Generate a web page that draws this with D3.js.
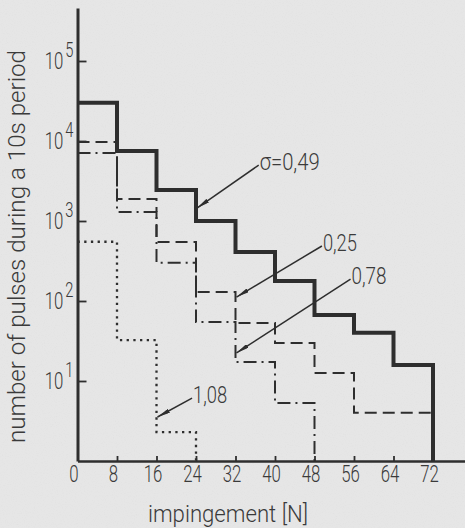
<!DOCTYPE html>
<html><head><meta charset="utf-8">
<script src="https://cdn.jsdelivr.net/npm/d3@7"></script>
<style>
html,body{margin:0;padding:0;background:#e4e4e4;}
svg{display:block;}
</style></head><body>
<svg id="chart" width="465" height="528"></svg>
<script>
// ---------------- data ----------------
const binEdges = [0, 8, 16, 24, 32, 40, 48, 56, 64, 72];
const xTickValues = [0, 8, 16, 24, 32, 40, 48, 56, 64, 72];
const yTickValues = [10, 100, 1000, 10000, 100000];
const yTickExponents = ["1", "2", "3", "4", "5"];
const series049 = [30000, 7500, 2440, 1000, 410, 178, 67, 40, 15.8];   // thick solid
const series025 = [9700, 1880, 546, 130, 53, 29.9, 12.6, 4.0, 4.0];    // dashed
const series078 = [7080, 1300, 300, 54.6, 17.3, 5.3];                  // dash-dot
const series108 = [550, 32.5, 2.3];                                    // dotted
const seriesLabels = ["σ=0,49", "0,25", "0,78", "1,08"];
const xTitle = "impingement [N]";
const yTitle = "number of pulses during a 10s period";
// annotation anchors (data units): label line start and arrow tip
const labelAnchorX = [36.7, 49.5, 55.3, 23.2];
const labelAnchorY = [5000, 487, 188, 6.1];
const arrowTipX = [24, 32, 32, 16];
const arrowTipY = [1450, 112, 22.4, 3.55];

// ---------------- layout / style ----------------
const W = 465, H = 528;
const ink = "#2e2e2e";
const textInk = "#3a3a3a";
const font = "Roboto, 'DejaVu Sans', sans-serif";
const textWeight = 300;
const labelWidths = [60, 34, 35, 34];
const condense = 0.7;

const svg = d3.select("#chart");
const defs = svg.append("defs");
const f = defs.append("filter").attr("id", "paper").attr("x", 0).attr("y", 0).attr("width", 1).attr("height", 1);
f.append("feTurbulence").attr("type", "fractalNoise").attr("baseFrequency", 0.9).attr("numOctaves", 2).attr("seed", 3);
f.append("feColorMatrix").attr("type", "matrix")
  .attr("values", "0 0 0 0 0.35  0 0 0 0 0.35  0 0 0 0 0.35  0 0 0 -1.1 0.55");
svg.append("rect").attr("width", W).attr("height", H).attr("fill", "#e6e6e6");
svg.append("rect").attr("width", W).attr("height", H).attr("filter", "url(#paper)").attr("opacity", 0.12);

const x = d3.scaleLinear().domain([0, 72]).range([77.5, 433]);
const y = d3.scaleLog().domain([1, Math.pow(10, 5.6625)]).range([461, 8]);

// ---------------- series ----------------
function stepPoints(vals) {
  const pts = vals.map((v, i) => [binEdges[i], v]);
  const n = vals.length;
  pts.push([binEdges[n], vals[n - 1]]);
  pts.push([binEdges[n], 1]);
  return pts;
}
const line = d3.line().x(d => x(d[0])).y(d => y(d[1])).curve(d3.curveStepAfter);

const seriesDefs = [
  { vals: series025, width: 2, dash: "12,6" },
  { vals: series078, width: 2, dash: "13,5,2,5" },
  { vals: series108, width: 2.3, dash: "2.3,4.4" },
  { vals: series049, width: 4, dash: null }
];
svg.append("g").selectAll("path").data(seriesDefs).join("path")
  .attr("d", d => line(stepPoints(d.vals)))
  .attr("fill", "none")
  .attr("stroke", ink)
  .attr("stroke-width", d => d.width)
  .attr("stroke-dasharray", d => d.dash)
  .attr("stroke-linejoin", "miter");

// ---------------- axes ----------------
const xAxisScale = x.copy().domain([0, x.invert(W)]).range([x(0), W]);
const gx = svg.append("g")
  .attr("transform", `translate(0,${y(1)})`)
  .call(d3.axisBottom(xAxisScale).tickValues(xTickValues)
    .tickSizeInner(-5).tickSizeOuter(0).tickPadding(4));
gx.attr("font-family", null).attr("font-size", null);
gx.select(".domain").attr("stroke", ink).attr("stroke-width", 2.6);
gx.selectAll(".tick line").attr("stroke", ink).attr("stroke-width", 1.8);
gx.selectAll(".tick text")
  .attr("fill", textInk)
  .style("font-family", font).style("font-size", "24px").style("font-weight", textWeight)
  .attr("x", -4 / condense)
  .attr("transform", `scale(${condense},1)`);

const gy = svg.append("g")
  .attr("transform", `translate(${x(0)},0)`)
  .call(d3.axisLeft(y).tickValues(yTickValues)
    .tickSizeInner(-9).tickSizeOuter(0).tickPadding(7).tickFormat(() => "10"));
gy.attr("font-family", null).attr("font-size", null);
gy.select(".domain").attr("stroke", ink).attr("stroke-width", 3);
gy.selectAll(".tick line").attr("stroke", ink).attr("stroke-width", 1.8);
gy.selectAll(".tick text").each(function (d, i) {
  const t = d3.select(this);
  t.text("10")
    .attr("fill", textInk)
    .attr("text-anchor", "end")
    .style("font-family", font).style("font-size", "24px").style("font-weight", textWeight)
    .attr("x", -4 / condense)
    .attr("dy", "0.3em")
    .attr("transform", `scale(${condense},1)`);
  t.append("tspan").attr("dx", 3).attr("dy", "-0.55em").style("font-size", "21px").text(yTickExponents[i]);
});

// ---------------- titles ----------------
svg.append("text")
  .attr("transform", `translate(25,${(443 + 50) / 2}) rotate(-90)`)
  .attr("text-anchor", "middle")
  .attr("fill", textInk)
  .style("font-family", font).style("font-size", "24px").style("font-weight", textWeight)
  .attr("textLength", 393).attr("lengthAdjust", "spacingAndGlyphs")
  .text(yTitle);

svg.append("text")
  .attr("x", 228).attr("y", 522)
  .attr("text-anchor", "middle")
  .attr("fill", textInk)
  .style("font-family", font).style("font-size", "24px").style("font-weight", textWeight)
  .attr("textLength", 160).attr("lengthAdjust", "spacingAndGlyphs")
  .text(xTitle);

// ---------------- annotations ----------------
defs.append("marker")
  .attr("id", "arrowhead").attr("viewBox", "0 0 13 4.4")
  .attr("refX", 13).attr("refY", 2.2)
  .attr("markerWidth", 13).attr("markerHeight", 4.4)
  .attr("markerUnits", "userSpaceOnUse").attr("orient", "auto")
  .append("path").attr("d", "M0,0L13,2.2L0,4.4Z").attr("fill", ink);

const ann = seriesLabels.map((s, i) => ({
  label: s, x0: labelAnchorX[i], y0: labelAnchorY[i], x1: arrowTipX[i], y1: arrowTipY[i], w: labelWidths[i]
}));
const ga = svg.append("g");
ga.selectAll("line").data(ann).join("line")
  .attr("x1", d => x(d.x0)).attr("y1", d => y(d.y0))
  .attr("x2", d => x(d.x1) + 1).attr("y2", d => y(d.y1))
  .attr("stroke", ink).attr("stroke-width", 1.5)
  .attr("marker-end", "url(#arrowhead)");
ga.selectAll("text").data(ann).join("text")
  .attr("x", d => x(d.x0) + 1).attr("y", d => y(d.y0) + 5)
  .attr("fill", textInk)
  .style("font-family", font).style("font-size", "24px").style("font-weight", textWeight)
  .attr("textLength", d => d.w).attr("lengthAdjust", "spacingAndGlyphs")
  .text(d => d.label);
</script>
</body></html>
